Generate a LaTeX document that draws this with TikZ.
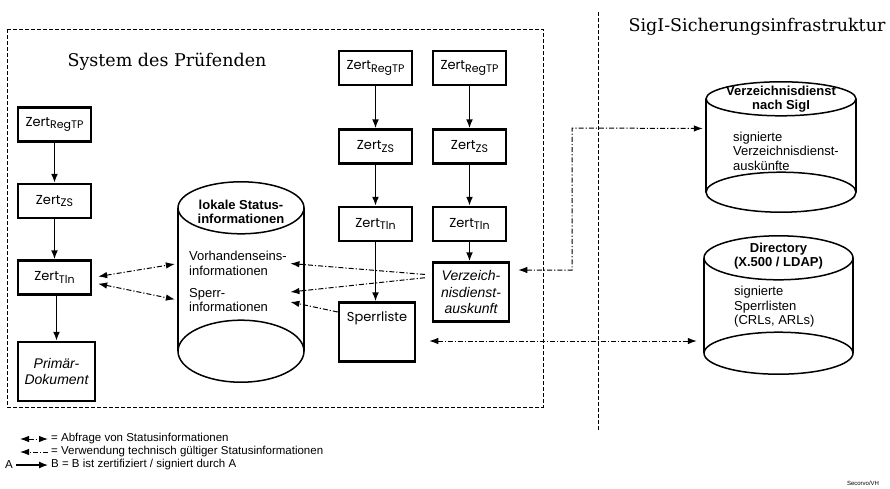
\documentclass[tikz,border=0pt]{standalone}
\usepackage{fontspec}
\setmainfont{Liberation Sans}
\newfontfamily\zfont{Poppins}
\newfontfamily\tfont{DejaVu Serif}
\usetikzlibrary{positioning,arrows.meta}
\newcommand{\zert}[1]{Zert\raisebox{-0.35ex}{\fontsize{11}{11}\selectfont #1}}
\newcommand{\zylinder}[4]{%
  \draw[zl] (#1.north west) -- (#1.south west) (#1.north east) -- (#1.south east);
  \draw[zl] (#1.north) ellipse [x radius=#2, y radius=#3];
  \draw[zl] (#1.south) ellipse [x radius=#2, y radius=#4];}

\begin{document}
\begin{tikzpicture}[
  x=1pt, y=-1pt,
  node distance=40pt,
  zb/.style={rectangle, draw, line width=2.5pt, minimum width=73pt, minimum height=34pt, inner sep=1pt, font=\zfont\fontsize{13}{15}\selectfont},
  db/.style={rectangle, draw, line width=2.5pt, minimum width=77pt, minimum height=59pt, inner sep=1pt, align=center, font=\itshape\fontsize{14}{16.5}\selectfont},
  sl/.style={zb, minimum width=76pt, minimum height=59pt, text height=16pt, text depth=37pt, inner sep=3pt},
  zk/.style={inner sep=0pt},
  zl/.style={line width=1.5pt},
  zt/.style={align=center, inner sep=1pt, font=\bfseries\fontsize{13}{14}\selectfont},
  zx/.style={align=left, inner sep=1pt, font=\fontsize{13}{14.5}\selectfont},
  leg/.style={inner sep=1pt, font=\fontsize{11.5}{13}\selectfont},
  ti/.style={anchor=base, inner sep=0pt, font=\tfont\fontsize{17.5}{20}\selectfont},
  rahmen/.style={line width=0.9pt, dash pattern=on 4pt off 2pt},
  fl/.style={-{Latex[length=9pt,width=7pt]}, line width=1.6pt},
  abf/.style={{Latex[length=9pt,width=6.5pt]}-{Latex[length=9pt,width=6.5pt]}, line width=1pt, dash pattern=on 5pt off 2pt on 1.2pt off 2pt},
  vw/.style={-{Latex[length=9pt,width=6.5pt]}, line width=1pt, dash pattern=on 5pt off 2pt on 1.2pt off 2pt}
]
\useasboundingbox (0,0) rectangle (890,488);
\draw[rahmen] (7,29) rectangle (543,407);
\draw[rahmen] (598,12) -- (598,430);
\node[ti] (tsys) at (167,66) {System des Prüfenden};
\node[ti] (tsig) at (757,31) {SigI-Sicherungsinfrastruktur};

\node[zb] (lreg) at (54.5,124.5) {\zert{RegTP}};
\node[zb, below=of lreg] (lzs) {\zert{ZS}};
\node[zb, below=of lzs] (ltln) {\zert{Tln}};
\node[db, below=45pt of ltln.south west, anchor=north west] (prim) {Primär-\\Dokument};

\node[zb] (areg) at (375.5,68) {\zert{RegTP}};
\node[zb, below=42pt of areg] (azs) {\zert{ZS}};
\node[zb, below=41pt of azs] (atln) {\zert{Tln}};
\node[sl, below=59pt of atln.south west, anchor=north west] (sperr) {Sperrliste};

\node[zb] (breg) at (469.5,68) {\zert{RegTP}};
\node[zb, below=42pt of breg] (bzs) {\zert{ZS}};
\node[zb, below=41pt of bzs] (btln) {\zert{Tln}};
\node[db, minimum width=76pt, below=19pt of btln.south west, anchor=north west] (verz) {Verzeich-\\nisdienst-\\auskunft};

\node[zk, minimum width=126pt, minimum height=143pt] (lokal) at (241,279.5) {};
\zylinder{lokal}{63pt}{26pt}{31pt}
\node[zt] (lokal-t) at (241,212) {lokale Status-\\informationen};
\node[zx, text width=100pt, anchor=west] (lokal-v) at (188,263.5) {Vorhandenseins-\\informationen};
\node[zx, text width=100pt, anchor=west] (lokal-s) at (188,300) {Sperr-\\informationen};

\node[zk, minimum width=150pt, minimum height=93pt] (vzd) at (781,145.5) {};
\zylinder{vzd}{75pt}{17pt}{20pt}
\node[zt] (vzd-t) at (781,99) {Verzeichnisdienst\\nach SigI};
\node[zx, anchor=west] (vzd-x) at (732,151) {signierte\\Verzeichnisdienst-\\auskünfte};

\node[zk, minimum width=149pt, minimum height=95pt] (dir) at (778.5,305.5) {};
\zylinder{dir}{74.5pt}{22pt}{21pt}
\node[zt] (dir-t) at (778.5,256) {Directory\\(X.500 / LDAP)};
\node[zx, anchor=west] (dir-x) at (733,307) {signierte\\Sperrlisten\\(CRLs, ARLs)};

\draw[fl] (lreg) -- (lzs);
\draw[fl] (lzs) -- (ltln);
\draw[fl] (ltln.south -| prim.north) -- (prim);
\draw[fl] (areg) -- (azs);
\draw[fl] (azs) -- (atln);
\draw[fl] (atln) -- (atln |- sperr.north);
\draw[fl] (breg) -- (bzs);
\draw[fl] (bzs) -- (btln);
\draw[fl] (btln) -- (btln |- verz.north);

\draw[abf, shorten <=6pt, shorten >=3pt] (ltln.east) -- (lokal-v.west -| lokal.west);
\draw[abf, shorten <=6pt, shorten >=3pt] ([yshift=-5pt]ltln.east) -- (lokal-s.west -| lokal.west);
\draw[vw, shorten <=7pt] ([yshift=17pt]verz.west) -- (lokal-v.east);
\draw[vw, shorten <=7pt] ([yshift=15pt]verz.west) -- ([yshift=8pt]lokal-s.east);
\draw[vw] ([yshift=20pt]sperr.west) -- ([yshift=-2pt]lokal-s.east);
\coordinate (knick) at (572,128);
\draw[abf, shorten <=8pt, shorten >=3pt] ([yshift=22pt]verz.east) -| (knick) -- ([yshift=17pt]vzd.west);
\draw[abf, shorten <=13pt, shorten >=7pt] ([yshift=-9pt]sperr.east) -- ([yshift=-9pt]sperr.east -| dir.west);

\node[leg, anchor=west] (l1) at (50,439) {= Abfrage von Statusinformationen};
\coordinate (l1a) at (20,439);
\draw[abf, shorten >=2pt] (l1a) -- (l1.west);
\node[leg, anchor=west] (l2) at (50,452) {= Verwendung technisch gültiger Statusinformationen};
\coordinate (l2a) at (20,452);
\draw[vw, shorten <=2pt] (l2.west) -- (l2a);
\node[leg] (la) at (9,465) {A};
\node[leg, anchor=west] (lb) at (50,465) {B = B ist zertifiziert / signiert durch A};
\draw[fl, line width=1.2pt, shorten <=2pt, shorten >=2pt] (la) -- (lb.west);
\node[inner sep=0pt, font=\fontsize{6}{6}\selectfont] (sec) at (863,483) {Secorvo/VH};
\end{tikzpicture}
\end{document}
